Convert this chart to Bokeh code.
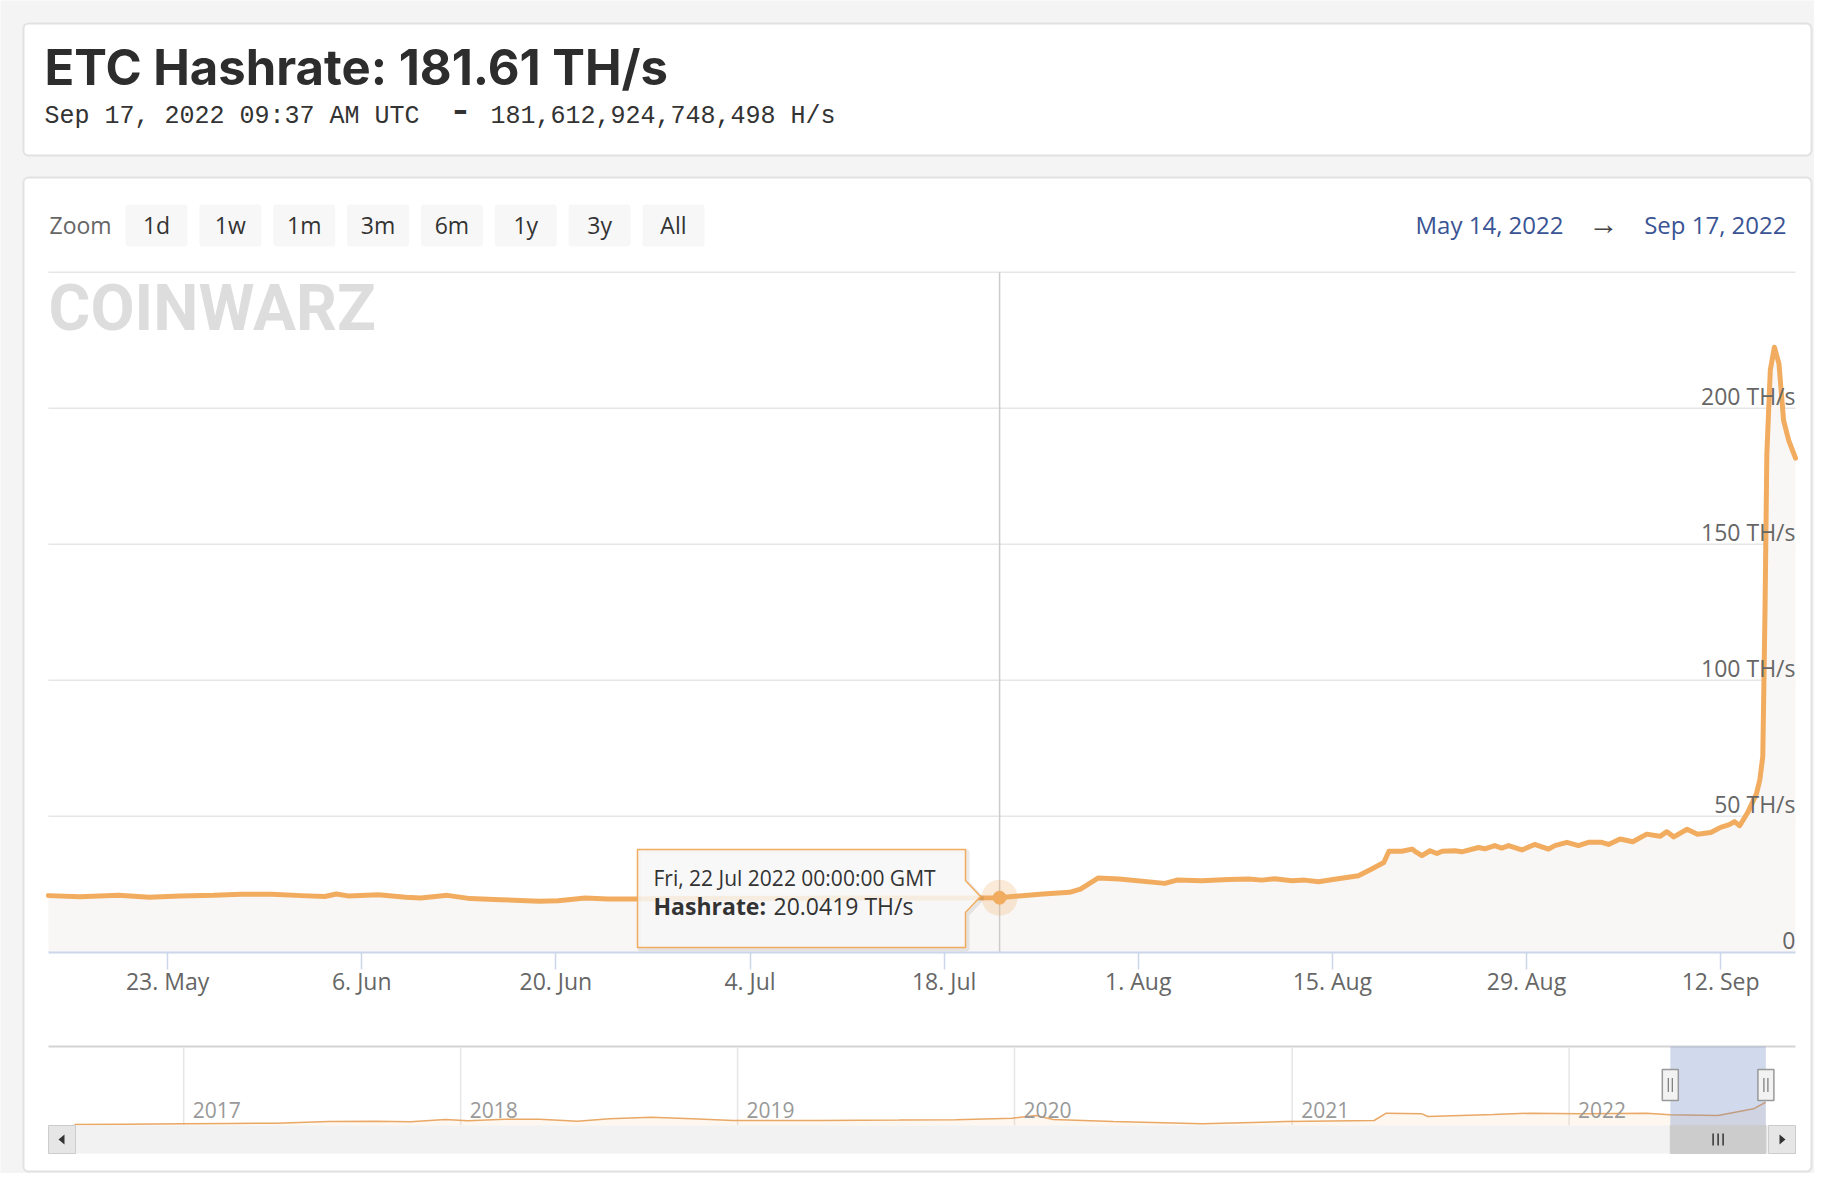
import math
import pandas as pd
from bokeh.plotting import figure
from bokeh.models import Range1d, LinearAxis, FixedTicker
from bokeh.core.properties import value
from bokeh.embed import file_html
from bokeh.resources import INLINE

# ------------------------------------------------------------------ data
title_text = "ETC Hashrate: 181.61 TH/s"
subtitle_left = "Sep 17, 2022 09:37 AM UTC"
subtitle_right = "181,612,924,748,498 H/s"
range_start = "2022-05-14 09:37"
range_end = "2022-09-17 09:37"
range_start_label = "May 14, 2022"
range_end_label = "Sep 17, 2022"
zoom_buttons = ["1d", "1w", "1m", "3m", "6m", "1y", "3y", "All"]

main_dates = [
    "2022-05-14 09:37", "2022-05-16 16:00", "2022-05-19 11:00", "2022-05-21 16:00",
    "2022-05-23 21:00", "2022-05-26 08:00", "2022-05-28 07:00", "2022-05-30 12:00",
    "2022-06-01 16:00", "2022-06-03 08:00", "2022-06-04 04:00", "2022-06-05 00:00",
    "2022-06-07 05:00", "2022-06-09 04:00", "2022-06-10 06:00", "2022-06-12 04:00",
    "2022-06-13 20:00", "2022-06-16 00:00", "2022-06-18 19:00", "2022-06-20 04:00",
    "2022-06-22 03:00", "2022-06-23 18:00", "2022-06-25 17:00", "2022-06-29 00:00",
    "2022-07-03 00:00", "2022-07-08 00:00", "2022-07-13 00:00", "2022-07-18 00:00",
    "2022-07-22 00:00", "2022-07-22 08:00", "2022-07-25 03:00", "2022-07-27 01:00",
    "2022-07-27 20:00", "2022-07-29 03:00", "2022-07-30 15:00", "2022-08-02 22:00",
    "2022-08-03 19:00", "2022-08-05 14:00", "2022-08-07 12:00", "2022-08-08 23:00",
    "2022-08-09 22:00", "2022-08-10 20:00", "2022-08-12 02:00", "2022-08-13 00:00",
    "2022-08-14 00:00", "2022-08-15 04:00", "2022-08-16 21:00", "2022-08-17 20:00",
    "2022-08-18 17:00", "2022-08-19 02:00", "2022-08-20 00:00", "2022-08-20 18:00",
    "2022-08-20 23:00", "2022-08-21 11:00", "2022-08-22 01:00", "2022-08-22 13:00",
    "2022-08-22 22:00", "2022-08-23 20:00", "2022-08-24 08:00", "2022-08-25 13:00",
    "2022-08-26 00:00", "2022-08-26 17:00", "2022-08-27 05:00", "2022-08-27 17:00",
    "2022-08-28 16:00", "2022-08-29 14:00", "2022-08-30 14:00", "2022-08-31 01:00",
    "2022-08-31 22:00", "2022-09-01 18:00", "2022-09-02 11:00", "2022-09-03 10:00",
    "2022-09-03 22:00", "2022-09-04 18:00", "2022-09-05 16:00", "2022-09-06 16:00",
    "2022-09-07 15:00", "2022-09-08 03:00", "2022-09-08 15:00", "2022-09-09 14:00",
    "2022-09-10 08:00", "2022-09-11 07:00", "2022-09-12 00:00", "2022-09-12 15:00",
    "2022-09-13 00:00", "2022-09-13 09:00", "2022-09-13 23:00", "2022-09-14 14:00",
    "2022-09-14 20:00", "2022-09-15 01:00", "2022-09-15 05:00", "2022-09-15 08:00",
    "2022-09-15 14:00", "2022-09-15 21:00", "2022-09-16 05:00", "2022-09-16 13:00",
    "2022-09-16 22:00", "2022-09-17 09:37",
]
main_values = [
    20.8, 20.4, 20.9, 20.2,
    20.7, 20.9, 21.3, 21.3,
    20.8, 20.5, 21.4, 20.7,
    21.1, 20.2, 19.9, 20.9,
    19.7, 19.3, 18.7, 18.9,
    19.9, 19.6, 19.6, 19.7,
    19.8, 19.8, 19.9, 19.9,
    20.0419, 20.2, 21.4, 22.0,
    23.2, 27.3, 26.9, 25.3,
    26.5, 26.3, 26.7, 26.9,
    26.5, 27.0, 26.3, 26.5,
    25.9, 26.8, 28.1, 30.6,
    33.0, 37.1, 37.1, 37.9,
    37.1, 35.5, 37.3, 36.3,
    37.1, 37.3, 36.9, 38.5,
    38.0, 39.2, 38.3, 39.2,
    37.6, 39.6, 37.9, 39.2,
    40.4, 39.2, 40.4, 40.4,
    39.6, 41.6, 40.6, 43.4,
    42.6, 44.3, 42.4, 45.2,
    43.4, 44.0, 45.9, 46.9,
    48.0, 46.5, 51.4, 58.2,
    63.5, 72.0, 128.0, 183.0,
    214.0, 222.4, 216.4, 195.5,
    188.1, 181.61,
]
tooltip_date = "2022-07-22 00:00"

x_tick_dates = ["2022-05-23", "2022-06-06", "2022-06-20", "2022-07-04", "2022-07-18",
                "2022-08-01", "2022-08-15", "2022-08-29", "2022-09-12"]
x_tick_labels = ["23. May", "6. Jun", "20. Jun", "4. Jul", "18. Jul",
                 "1. Aug", "15. Aug", "29. Aug", "12. Sep"]
y_grid_ticks = [50, 100, 150, 200, 250]
y_label_ticks = [0, 50, 100, 150, 200]
y_tick_labels = ["0", "50 TH/s", "100 TH/s", "150 TH/s", "200 TH/s"]

nav_dates = [
    "2016-08-10", "2016-10-15", "2017-01-01", "2017-03-01", "2017-05-03", "2017-07-11",
    "2017-09-11", "2017-10-27", "2017-12-12", "2018-01-11", "2018-02-28", "2018-04-15",
    "2018-06-04", "2018-07-16", "2018-09-09", "2018-11-02", "2018-12-26", "2019-04-22",
    "2019-08-02", "2019-10-15", "2019-12-29", "2020-01-29", "2020-02-21", "2020-05-10",
    "2020-09-05", "2020-12-23", "2021-04-19", "2021-05-05", "2021-06-21", "2021-06-29",
    "2021-09-23", "2021-11-09", "2022-01-18", "2022-04-13", "2022-05-14", "2022-07-16",
    "2022-08-08", "2022-09-01", "2022-09-17",
]
nav_values = [
    1.8, 2.5, 3.0, 3.5, 4.2, 7.3,
    7.9, 6.7, 10.9, 8.5, 11.5, 11.5,
    7.9, 12.1, 15.0, 12.1, 9.1, 9.1,
    9.8, 10.5, 13.3, 18.2, 10.9, 7.3,
    3.0, 7.3, 9.1, 22.4, 21.2, 16.4,
    20.0, 22.4, 21.2, 22.4, 19.5, 18.2,
    24.2, 30.4, 42.4,
]
nav_years = ["2017-01-01", "2018-01-01", "2019-01-01", "2020-01-01", "2021-01-01", "2022-01-01"]
nav_year_labels = ["2017", "2018", "2019", "2020", "2021", "2022"]

# ------------------------------------------------------------------ styles
PAGE = "#f4f4f4"
ORANGE = "#f1ac60"
W, H = 1814, 1173


def ms(s):
    return int(pd.Timestamp(s).value // 10**6)


def lin_range(va, pa, vb, pb, p_start, p_end):
    k = (vb - va) / (pb - pa)
    return Range1d(start=va + (p_start - pa) * k, end=va + (p_end - pa) * k)


t0, t1 = ms(range_start), ms(range_end)
y17, y22 = ms("2017-01-01"), ms("2022-01-01")

p = figure(width=W, height=H, x_range=Range1d(0, W), y_range=Range1d(H, 0),
           x_axis_type=None, y_axis_type=None, toolbar_location=None,
           output_backend="svg", min_border=0, outline_line_color=None,
           background_fill_color=PAGE, border_fill_color=PAGE)
p.extra_x_ranges = {
    "mx": lin_range(t0, 47.9, t1, 1795.0, 0, W),
    "nx": lin_range(y17, 183.2, y22, 1568.6, 0, W),
}
p.extra_y_ranges = {
    "my": lin_range(0, 951.7, 250, 271.7, H, 0),
    "ny": lin_range(0, 1125, 144, 1046, H, 0),
}


def label(x, y, s, size, color="#333333", font="Open Sans", style="normal",
          align="left"):
    p.text(x=[x], y=[y], text=[s], text_font=value(font),
           text_font_size=f"{size}px", text_font_style=style, text_color=color,
           text_align=align, text_baseline="middle")


# ------------------------------------------------------------------ cards
p.quad(left=[23, 23], right=[1811, 1811], top=[23, 177], bottom=[155, 1171],
       fill_color="white", line_color="#e2e2e2", line_width=2, border_radius=5)

# header
label(44, 66.5, title_text, 49, color="#2d2d2d", font="Inter", style="bold")
label(44, 115.5, subtitle_left, 25, color="#333333", font="Liberation Mono")
label(460, 108.5, "-", 34, color="#333333", font="Inter", style="bold", align="center")
label(490, 115.5, subtitle_right, 25, color="#333333", font="Liberation Mono")

# range selector
label(49, 224, "Zoom", 23, color="#666666")
for i, b in enumerate(zoom_buttons):
    left = 125 + 73.85 * i
    p.quad(left=[left], right=[left + 62], top=[204], bottom=[246],
           fill_color="#f7f7f7", line_color=None, border_radius=3)
    label(left + 31, 224, b, 23, color="#333333", align="center")

label(1415, 224, range_start_label, 24, color="#3a5494")
label(1603, 222, "\u2192", 30, color="#444444", align="center")
label(1786, 224, range_end_label, 24, color="#3a5494", align="right")

# watermark
label(48, 307.5, "COINWARZ", 64, color="#dddddd", font="Roboto", style="bold")

# ------------------------------------------------------------------ main chart
md = [ms(d) for d in main_dates]
p.segment(x0=t0, x1=t1, y0=y_grid_ticks, y1=y_grid_ticks, x_range_name="mx",
          y_range_name="my", line_color="#e6e6e6", line_width=1.5)
p.varea(x=md, y1=0, y2=main_values, x_range_name="mx", y_range_name="my",
        fill_color="#f8f7f6")

tt = ms(tooltip_date)
tv = main_values[main_dates.index(tooltip_date)]
p.segment(x0=[tt], x1=[tt], y0=[0], y1=[250], x_range_name="mx", y_range_name="my",
          line_color="#cccccc", line_width=1.5)

p.line(md, main_values, x_range_name="mx", y_range_name="my", line_color=ORANGE,
       line_width=5, line_join="round", line_cap="round")

xt = [ms(d) for d in x_tick_dates]
xaxis = LinearAxis(x_range_name="mx", fixed_location=951.7,
                   ticker=FixedTicker(ticks=xt),
                   major_label_overrides={t: l for t, l in zip(xt, x_tick_labels)},
                   bounds=(t0, t1),
                   axis_line_color="#ccd6eb", axis_line_width=2,
                   major_tick_line_color="#ccd6eb", major_tick_line_width=1.5,
                   major_tick_out=17, major_tick_in=0,
                   minor_tick_out=0, minor_tick_in=0,
                   major_label_standoff=-4,
                   major_label_text_font="Open Sans",
                   major_label_text_font_size="23px",
                   major_label_text_color="#666666")
p.add_layout(xaxis, "below")

p.text(x=t1, y=y_label_ticks, text=y_tick_labels, x_range_name="mx", y_range_name="my",
       text_font=value("Open Sans"), text_font_size="23px", text_color="#666666",
       text_align="right", text_baseline="middle", y_offset=-12)

# hover marker
p.scatter(x=[tt], y=[tv], size=36, fill_color=ORANGE, fill_alpha=0.25, line_color=None,
          x_range_name="mx", y_range_name="my")
p.scatter(x=[tt], y=[tv], size=13, fill_color=ORANGE, line_color=ORANGE,
          x_range_name="mx", y_range_name="my")

# tooltip
tip_x = [637, 965, 965, 980, 965, 965, 637]
tip_y = [849, 849, 880, 896, 912, 947, 947]
p.patch([v + 2 for v in tip_x], [v + 2 for v in tip_y], fill_color=None,
        line_color="#000000", line_alpha=0.08, line_width=4)
p.patch(tip_x, tip_y, fill_color="#f7f7f7", fill_alpha=0.85, line_color=ORANGE,
        line_width=1.5, line_join="round")
tip_header = pd.Timestamp(tooltip_date).strftime("%a, %d %b %Y %H:%M:%S GMT")
label(653, 877, tip_header, 21, color="#333333")
label(653, 905, "Hashrate:", 23, color="#333333", style="bold")
label(773, 905, f"{tv:.4f} TH/s", 23, color="#333333")

# ------------------------------------------------------------------ navigator
nd = [ms(d) for d in nav_dates]
yr = [ms(d) for d in nav_years]
p.segment(x0=[48], x1=[1795], y0=[1046], y1=[1046], line_color="#d4d4d4", line_width=2)
p.segment(x0=yr, x1=yr, y0=1047, y1=1125, x_range_name="nx",
          line_color="#e6e6e6", line_width=1.5)
p.varea(x=nd, y1=0, y2=nav_values, x_range_name="nx", y_range_name="ny",
        fill_color=ORANGE, fill_alpha=0.1)
p.line(nd, nav_values, x_range_name="nx", y_range_name="ny",
       line_color="#e9a866", line_width=1.5)
p.text(x=yr, y=1109, text=nav_year_labels, x_range_name="nx", x_offset=9,
       text_font=value("Open Sans"), text_font_size="21px", text_color="#999999",
       text_align="left", text_baseline="middle")

# selected range mask
p.quad(left=[t0], right=[t1], top=[1046], bottom=[1125], x_range_name="nx",
       fill_color="#6685c2", fill_alpha=0.3, line_color=None)

# scrollbar
p.quad(left=[75], right=[1768], top=[1125], bottom=[1153],
       fill_color="#f2f2f2", line_color=None)
p.quad(left=[48, 1768], right=[75, 1795], top=[1125, 1125], bottom=[1153, 1153],
       fill_color="#e6e6e6", line_color="#cccccc", line_width=1)
p.patches(xs=[[58, 64, 64], [1785, 1779, 1779]],
          ys=[[1139, 1134, 1144], [1139, 1134, 1144]],
          fill_color="#333333", line_color=None)
p.quad(left=[t0], right=[t1], top=[1125], bottom=[1153], x_range_name="nx",
       fill_color="#cccccc", line_color="#cccccc")
ms_per_px = (y22 - y17) / (1568.6 - 183.2)
mid = (t0 + t1) / 2
p.scatter(x=[mid - 5 * ms_per_px, mid, mid + 5 * ms_per_px], y=1139, marker="dash",
          angle=math.pi / 2, size=12, line_color="#333333", line_width=1.5,
          x_range_name="nx")

# handles
p.rect(x=[t0, t1], y=1084.5, width=16, height=31, width_units="screen",
       height_units="screen", x_range_name="nx", fill_color="#f2f2f2",
       line_color="#999999", line_width=1.5)
p.scatter(x=[t0 - 2 * ms_per_px, t0 + 2 * ms_per_px, t1 - 2 * ms_per_px, t1 + 2 * ms_per_px],
          y=1084.5, marker="dash", angle=math.pi / 2, size=14,
          line_color="#777777", line_width=1.2, x_range_name="nx")

open("out.html", "w").write(file_html(p, INLINE))
